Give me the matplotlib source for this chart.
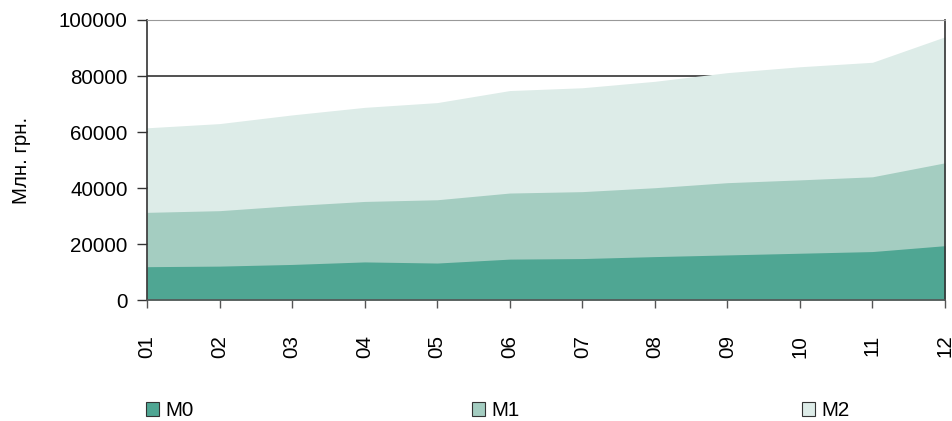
import matplotlib
matplotlib.use("Agg")
from matplotlib import pyplot as plt
from matplotlib.patches import Patch
import numpy as np

# monthly money aggregates, mln UAH
months = ["01", "02", "03", "04", "05", "06", "07", "08", "09", "10", "11", "12"]
m0 = [11900, 12100, 12700, 13600, 13200, 14600, 14800, 15500, 16100, 16700, 17300, 19400]
m1 = [31300, 31900, 33700, 35200, 35800, 38200, 38700, 40100, 41900, 42900, 44000, 49000]
m2 = [61500, 63000, 66100, 68800, 70500, 74800, 75800, 78100, 81200, 83300, 84900, 94000]
names = ["M0", "M1", "M2"]
colors = ["#4fa693", "#a4cdc1", "#ddece8"]

plt.rcParams["font.family"] = ["Liberation Sans", "DejaVu Sans"]
plt.rcParams["font.size"] = 14.8

fig = plt.figure(figsize=(9.53, 4.21), dpi=100)
ax = fig.add_axes([147 / 953, 1 - 300 / 421, 798 / 953, 280 / 421])

x = np.arange(len(months))
# nested aggregates drawn over each other, biggest first
for vals, c in zip([m2, m1, m0], colors[::-1]):
    ax.fill_between(x, 0, vals, color=c, lw=0, zorder=2)

ax.set_xlim(0, len(months) - 1)
ax.set_ylim(0, 100000)
ax.set_yticks(np.arange(0, 100001, 20000))
ax.set_xticks(x)
ax.set_xticklabels(months, rotation=90)
ax.yaxis.grid(True, color="#333333", lw=1.2, zorder=1)
ax.set_axisbelow(True)

ax.tick_params(axis="y", length=7, width=1, color="#333333", pad=7)
ax.tick_params(axis="x", length=6, width=1, color="#555555", pad=19)
for side in ["left", "right"]:
    ax.spines[side].set_color("#333333")
    ax.spines[side].set_linewidth(1.2)
ax.spines["top"].set_color("#999999")
ax.spines["bottom"].set_color("#555555")
ax.spines["bottom"].set_linewidth(1.2)

ax.set_ylabel("Млн. грн.", labelpad=20)

# legend entries spread under the chart
legend_x = [146 / 953, 472 / 953, 802 / 953]
for name, c, lx in zip(names, colors, legend_x):
    h = Patch(facecolor=c, edgecolor="#333333", lw=0.8)
    lg = fig.legend(handles=[h], labels=[name], loc="center left",
                    bbox_to_anchor=(lx, 1 - 411 / 421), frameon=False,
                    borderpad=0, borderaxespad=0, handlelength=0.65,
                    handleheight=0.65, handletextpad=0.3)

fig.savefig("out.png", dpi=100)
